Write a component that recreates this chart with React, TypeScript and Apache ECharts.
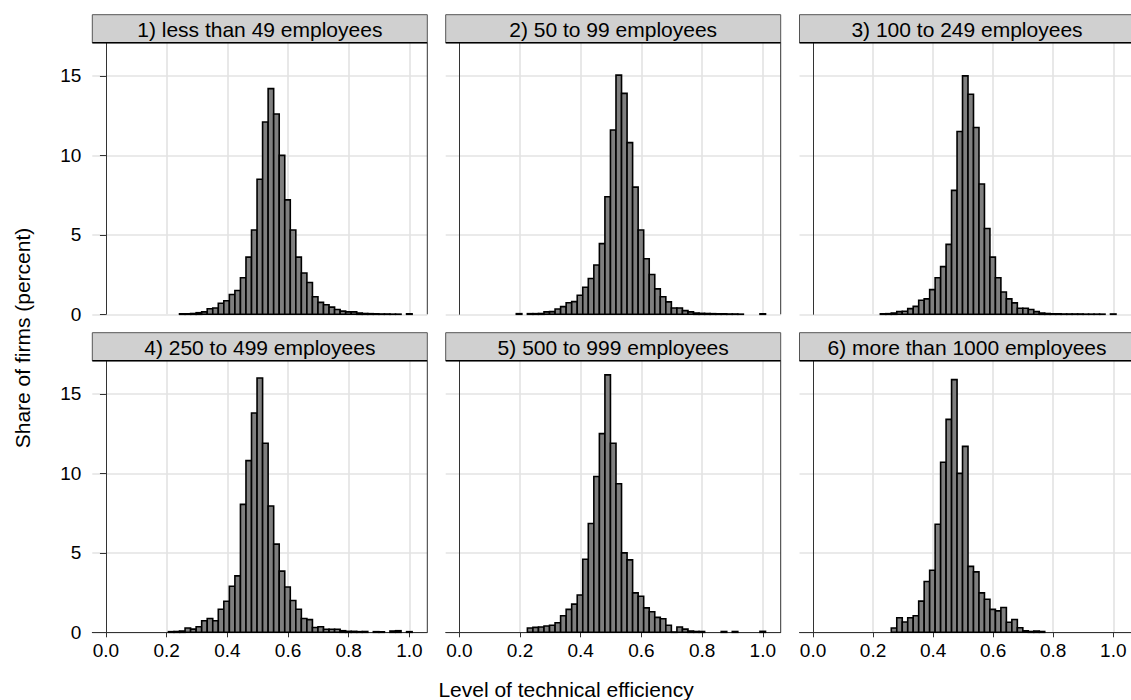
import React, { useEffect, useRef } from "react";
import * as echarts from "echarts";

// Histogram bins (shared by all panels)
const BIN_START = 0.0052;
const BIN_WIDTH = 0.01825;
const BIN_COUNT = 55;

const PANEL_TITLES = [
  "1) less than 49 employees",
  "2) 50 to 99 employees",
  "3) 100 to 249 employees",
  "4) 250 to 499 employees",
  "5) 500 to 999 employees",
  "6) more than 1000 employees",
];

// Share of firms (percent) per bin, one array per panel
const P1 = [0,0,0,0,0,0,0,0,0,0,0,0,0,0.03,0.03,0.05,0.1,0.15,0.35,0.4,0.7,0.85,1.25,1.5,2.3,3.6,5.3,8.5,12.1,14.2,12.6,10.0,7.2,5.3,3.6,2.6,2.0,1.1,0.75,0.6,0.45,0.3,0.2,0.15,0.15,0.08,0.05,0.04,0.03,0.02,0.02,0.01,0.01,0,0.03];
const P2 = [0,0,0,0,0,0,0,0,0,0,0.04,0,0.04,0.04,0.05,0.15,0.17,0.33,0.48,0.73,0.8,1.2,1.7,2.25,3.1,4.45,7.4,11.6,15.05,13.9,10.8,8.0,5.3,3.5,2.5,1.6,1.1,0.78,0.4,0.4,0.23,0.15,0.08,0.06,0.05,0.04,0.03,0.03,0.02,0.02,0.01,0,0,0,0.03];
const P3 = [0,0,0,0,0,0,0,0,0,0,0,0,0.03,0.04,0.08,0.17,0.19,0.36,0.5,0.88,0.97,1.55,2.3,3.0,4.4,7.8,11.5,15.0,13.85,11.75,8.2,5.4,3.6,2.3,1.4,0.97,0.72,0.38,0.38,0.3,0.17,0.08,0.05,0.03,0.03,0.02,0.02,0.02,0.02,0.01,0.01,0.01,0.01,0,0.02];
const P4 = [0,0,0,0,0,0,0,0,0,0,0,0.04,0.05,0.08,0.27,0.2,0.35,0.73,0.87,0.73,1.45,1.95,2.9,3.55,8.05,10.8,13.8,16.0,11.9,7.95,5.55,3.85,2.85,2.0,1.45,0.87,0.8,0.3,0.35,0.19,0.19,0.19,0.1,0.06,0.06,0.04,0.05,0,0.04,0.03,0,0.08,0.1,0,0.04];
const P5 = [0,0,0,0,0,0,0,0,0,0,0,0,0.27,0.31,0.33,0.4,0.44,0.6,1.04,1.44,1.77,2.35,4.6,6.85,9.8,12.5,16.2,11.9,9.35,5.0,4.56,2.48,2.27,1.54,1.29,0.94,0.85,0.44,0.02,0.33,0.2,0.08,0.05,0.05,0,0,0,0.05,0,0.05,0,0,0,0,0.06];
const P6 = [0,0,0,0,0,0,0,0,0,0,0,0,0,0,0.27,0.92,0.65,0.92,1.04,1.96,3.2,3.9,6.8,10.7,13.4,15.9,10.0,11.7,4.15,3.8,2.48,2.08,1.44,1.35,1.56,0.63,0.81,0.29,0.1,0.05,0.08,0.05,0,0,0,0,0,0,0,0,0,0,0,0,0];
const PANELS = [P1, P2, P3, P4, P5, P6];

const X_TICKS = [0, 0.2, 0.4, 0.6, 0.8, 1.0];
const X_GRID = [0.2, 0.4, 0.6, 0.8, 1.0];
const Y_TICKS = [0, 5, 10, 15];
const X_MIN = -0.045;
const X_MAX = 1.059;
const Y_MAX = 17.09;

// layout
const COLS = [92.3, 445.7, 799.5];
const PANEL_W = 335;
const STRIP_TOP = [14.7, 332.7];
const STRIP_H = 28;
const PLOT_H = 271.6;
const FONT = "'Liberation Sans', Arial, sans-serif";

export default function App() {
  const ref = useRef<HTMLDivElement>(null);

  useEffect(() => {
    if (!ref.current) return;
    const chart = echarts.init(ref.current, undefined, { renderer: "svg" });

    const grids: any[] = [];
    const xAxes: any[] = [];
    const gridXAxes: any[] = [];
    const yAxes: any[] = [];
    const series: any[] = [];
    const graphics: any[] = [];

    PANELS.forEach((vals, i) => {
      const col = i % 3;
      const row = Math.floor(i / 3);
      const left = COLS[col];
      const top = STRIP_TOP[row] + STRIP_H;
      grids.push({ left, top, width: PANEL_W, height: PLOT_H, containLabel: false });

      xAxes.push({
        type: "value",
        gridIndex: i,
        position: "bottom",
        min: X_MIN,
        max: X_MAX,
        axisLine: { show: row === 1, onZero: false, lineStyle: { color: "#333", width: 1 } },
        axisTick: { show: row === 1, customValues: X_TICKS, length: 5, lineStyle: { color: "#333" } },
        axisLabel: {
          show: row === 1,
          customValues: X_TICKS,
          formatter: (v: number) => v.toFixed(1),
          color: "#000",
          fontSize: 19,
          fontFamily: FONT,
          margin: 9,
        },
        splitLine: { show: false },
      });
      gridXAxes.push({
        type: "value",
        gridIndex: i,
        position: "top",
        min: X_MIN,
        max: X_MAX,
        axisLine: { show: false },
        axisTick: { show: false, customValues: X_GRID },
        axisLabel: { show: false, customValues: X_GRID },
        splitLine: { show: true, lineStyle: { color: "#e3e3e3", width: 1.6 } },
      });
      yAxes.push({
        type: "value",
        gridIndex: i,
        min: 0,
        max: Y_MAX,
        axisLine: { show: true, lineStyle: { color: "#333", width: 1 } },
        axisTick: { show: col === 0, customValues: Y_TICKS, length: 6, lineStyle: { color: "#333" } },
        axisLabel: {
          show: col === 0,
          customValues: Y_TICKS,
          color: "#000",
          fontSize: 19,
          fontFamily: FONT,
          margin: 11,
        },
        splitLine: { show: true, lineStyle: { color: "#e3e3e3", width: 1.6 } },
      });

      const data: number[][] = [];
      vals.forEach((v, k) => {
        if (v > 0) {
          const x0 = BIN_START + k * BIN_WIDTH;
          data.push([x0, x0 + BIN_WIDTH, v]);
        }
      });
      series.push({
        type: "custom",
        xAxisIndex: i,
        yAxisIndex: i,
        data,
        encode: { x: [0, 1], y: 2 },
        renderItem: (params: any, api: any) => {
          const a = api.coord([api.value(0), 0]);
          const b = api.coord([api.value(1), api.value(2)]);
          return {
            type: "rect",
            shape: { x: a[0], y: b[1], width: b[0] - a[0], height: a[1] - b[1] },
            style: { fill: "#7f7f7f", stroke: "#000", lineWidth: 1.6 },
          };
        },
      });

      // strip
      graphics.push({
        type: "rect",
        shape: { x: left, y: STRIP_TOP[row], width: PANEL_W, height: STRIP_H },
        style: { fill: "#d0d0d0", stroke: "#555", lineWidth: 1 },
        z: 10,
      });
      graphics.push({
        type: "line",
        shape: { x1: left, y1: top, x2: left + PANEL_W, y2: top },
        style: { stroke: "#000", lineWidth: 1.5 },
        z: 11,
      });
      graphics.push({
        type: "text",
        x: left + PANEL_W / 2,
        y: STRIP_TOP[row] + STRIP_H / 2 + 1,
        style: {
          text: PANEL_TITLES[i],
          fontSize: 21,
          fontFamily: FONT,
          fill: "#000",
          align: "center",
          verticalAlign: "middle",
        },
        z: 12,
      });
      // right border
      graphics.push({
        type: "line",
        shape: { x1: left + PANEL_W, y1: top, x2: left + PANEL_W, y2: top + PLOT_H },
        style: { stroke: "#333", lineWidth: 1 },
        z: 11,
      });
    });

    graphics.push({
      type: "text",
      x: 22,
      y: 338,
      rotation: Math.PI / 2,
      style: {
        text: "Share of firms (percent)",
        fontSize: 21,
        fontFamily: FONT,
        fill: "#000",
        align: "center",
        verticalAlign: "middle",
      },
    });
    graphics.push({
      type: "text",
      x: 566,
      y: 689,
      style: {
        text: "Level of technical efficiency",
        fontSize: 21,
        fontFamily: FONT,
        fill: "#000",
        align: "center",
        verticalAlign: "middle",
      },
    });

    chart.setOption({
      animation: false,
      backgroundColor: "#fff",
      grid: grids,
      xAxis: [...xAxes, ...gridXAxes],
      yAxis: yAxes,
      series,
      graphic: graphics,
    });

    return () => chart.dispose();
  }, []);

  return (
    <div
      ref={ref}
      style={{ position: "absolute", left: 0, top: 0, width: 1131, height: 700 }}
    />
  );
}
